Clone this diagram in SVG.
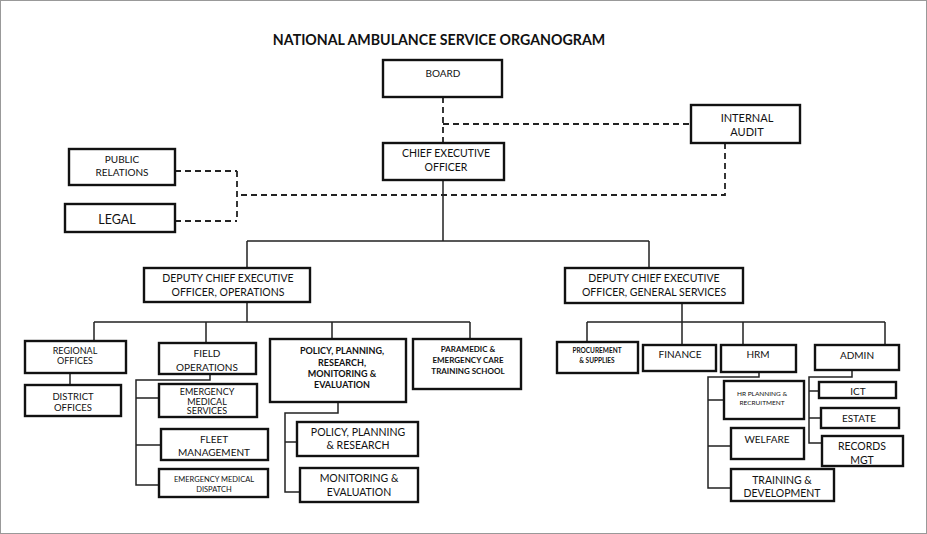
<svg xmlns="http://www.w3.org/2000/svg" width="927" height="534" viewBox="0 0 927 534">
<style>
.b{fill:#fff;stroke:#111;stroke-width:2.4}
.t{font-family:Lato,"Open Sans","Liberation Sans",sans-serif;fill:#111;text-anchor:middle;font-size:10px}
.bd{font-weight:bold}
.c{fill:none;stroke:#222;stroke-width:1.5}
.d{fill:none;stroke:#222;stroke-width:1.8;stroke-dasharray:6 4}
</style>
<rect x="0.5" y="0.5" width="926" height="533" fill="#fff" stroke="#999" stroke-width="1"/>
<text class="t bd" x="439" y="45" style="font-size:14.2px">NATIONAL AMBULANCE SERVICE ORGANOGRAM</text>
<g id="connectors">
<path class="d" d="M443 97V143M443 124H691M725 143V195H237M237 171V221M175 171H237M175 221H237"/>
<path class="c" d="M443 180V241M247 241H649M247 241V268M649 241V268"/>
<path class="c" d="M247 302V322M94 322H470M94 322V341M206 322V343M332 322V339M470 322V339"/>
<path class="c" d="M70 373V385"/>
<path class="c" d="M210 374V380H136V485H159M136 398H159M136 445H161"/>
<path class="c" d="M338 402V413H285V492H300M285 442H297"/>
<path class="c" d="M682 303V322M587 322H885M587 322V342M682 322V345M743 322V345M885 322V345"/>
<path class="c" d="M759 372V377H708V488H731M708 400H724M708 446H731"/>
<path class="c" d="M852 370V377H809V443H822M809 391H819M809 418H821"/>
</g>
<g id="board"><rect class="b" x="383" y="60" width="119" height="37"/><text class="t" x="443" y="77">BOARD</text></g>
<g id="internal-audit"><rect class="b" x="691" y="105" width="109" height="38"/><text class="t" x="747" y="122" style="font-size:11px">INTERNAL</text><text class="t" x="747" y="136" style="font-size:11px">AUDIT</text></g>
<g id="ceo"><rect class="b" x="383" y="143" width="121" height="37"/><text class="t" x="446" y="157" style="font-size:10.5px">CHIEF EXECUTIVE</text><text class="t" x="446" y="171" style="font-size:10.5px">OFFICER</text></g>
<g id="public-relations"><rect class="b" x="69" y="149" width="106" height="36"/><text class="t" x="122" y="163">PUBLIC</text><text class="t" x="122" y="176">RELATIONS</text></g>
<g id="legal"><rect class="b" x="65" y="204" width="110" height="28"/><text class="t" x="117" y="224" style="font-size:12.5px">LEGAL</text></g>
<g id="dceo-ops"><rect class="b" x="144" y="268" width="166" height="34"/><text class="t" x="228" y="282" style="font-size:10.5px">DEPUTY CHIEF EXECUTIVE</text><text class="t" x="228" y="296" style="font-size:10.5px">OFFICER, OPERATIONS</text></g>
<g id="dceo-gs"><rect class="b" x="565" y="268" width="178" height="35"/><text class="t" x="654" y="282" style="font-size:10.5px">DEPUTY CHIEF EXECUTIVE</text><text class="t" x="654" y="296" style="font-size:10.5px">OFFICER, GENERAL SERVICES</text></g>
<g id="regional"><rect class="b" x="25" y="341" width="101" height="32"/><text class="t" x="75" y="354" style="font-size:9px">REGIONAL</text><text class="t" x="75" y="364" style="font-size:9px">OFFICES</text></g>
<g id="district"><rect class="b" x="25" y="385" width="96" height="31"/><text class="t" x="73" y="399.5" style="font-size:9.5px">DISTRICT</text><text class="t" x="73" y="410.5" style="font-size:9.5px">OFFICES</text></g>
<g id="field-ops"><rect class="b" x="159" y="343" width="97" height="31"/><text class="t" x="207" y="357">FIELD</text><text class="t" x="207" y="371">OPERATIONS</text></g>
<g id="ems"><rect class="b" x="159" y="384" width="98" height="33"/><text class="t" x="207" y="395" style="font-size:9px">EMERGENCY</text><text class="t" x="207" y="404.5" style="font-size:9px">MEDICAL</text><text class="t" x="207" y="414" style="font-size:9px">SERVICES</text></g>
<g id="fleet"><rect class="b" x="161" y="429" width="107" height="31"/><text class="t" x="214" y="443">FLEET</text><text class="t" x="214" y="456">MANAGEMENT</text></g>
<g id="emd"><rect class="b" x="159" y="469" width="109" height="28"/><text class="t" x="214" y="482" style="font-size:7.5px">EMERGENCY MEDICAL</text><text class="t" x="214" y="492" style="font-size:7.5px">DISPATCH</text></g>
<g id="ppmre"><rect class="b" x="270" y="339" width="136" height="63"/><text class="t bd" x="342" y="354" style="font-size:9px">POLICY, PLANNING,</text><text class="t bd" x="342" y="366" style="font-size:9px">RESEARCH,</text><text class="t bd" x="342" y="377" style="font-size:9px">MONITORING &amp;</text><text class="t bd" x="342" y="388" style="font-size:9px">EVALUATION</text></g>
<g id="paramedic"><rect class="b" x="413" y="339" width="108" height="50"/><text class="t bd" x="468" y="352" style="font-size:8px">PARAMEDIC &amp;</text><text class="t bd" x="468" y="363" style="font-size:8px">EMERGENCY CARE</text><text class="t bd" x="468" y="374" style="font-size:8px">TRAINING SCHOOL</text></g>
<g id="ppr"><rect class="b" x="297" y="422" width="121" height="34"/><text class="t" x="358" y="436" style="font-size:10.5px">POLICY, PLANNING</text><text class="t" x="358" y="449" style="font-size:10.5px">&amp; RESEARCH</text></g>
<g id="me"><rect class="b" x="300" y="468" width="118" height="34"/><text class="t" x="359" y="482" style="font-size:10.5px">MONITORING &amp;</text><text class="t" x="359" y="496" style="font-size:10.5px">EVALUATION</text></g>
<g id="procurement"><rect class="b" x="557" y="342" width="81" height="31"/><text class="t bd" x="597" y="353" style="font-size:6.5px">PROCUREMENT</text><text class="t bd" x="597" y="363" style="font-size:6.5px">&amp; SUPPLIES</text></g>
<g id="finance"><rect class="b" x="643" y="345" width="73" height="26"/><text class="t" x="680" y="358">FINANCE</text></g>
<g id="hrm"><rect class="b" x="721" y="345" width="75" height="27"/><text class="t" x="758" y="358">HRM</text></g>
<g id="admin"><rect class="b" x="815" y="345" width="84" height="25"/><text class="t" x="857" y="359">ADMIN</text></g>
<g id="hr-planning"><rect class="b" x="724" y="381" width="80" height="38"/><text class="t" x="762" y="396" style="font-size:6.5px">HR PLANNING &amp;</text><text class="t" x="762" y="405" style="font-size:6.5px">RECRUITMENT</text></g>
<g id="welfare"><rect class="b" x="731" y="428" width="73" height="31"/><text class="t" x="767" y="443">WELFARE</text></g>
<g id="training"><rect class="b" x="731" y="469" width="103" height="32"/><text class="t" x="782" y="484" style="font-size:10.5px">TRAINING &amp;</text><text class="t" x="782" y="497" style="font-size:10.5px">DEVELOPMENT</text></g>
<g id="ict"><rect class="b" x="819" y="382" width="77" height="16"/><text class="t" x="858" y="395">ICT</text></g>
<g id="estate"><rect class="b" x="821" y="408" width="78" height="20"/><text class="t" x="859" y="422">ESTATE</text></g>
<g id="records"><rect class="b" x="822" y="436" width="81" height="30"/><text class="t" x="862" y="450" style="font-size:10.5px">RECORDS</text><text class="t" x="862" y="464" style="font-size:10.5px">MGT</text></g>
</svg>
